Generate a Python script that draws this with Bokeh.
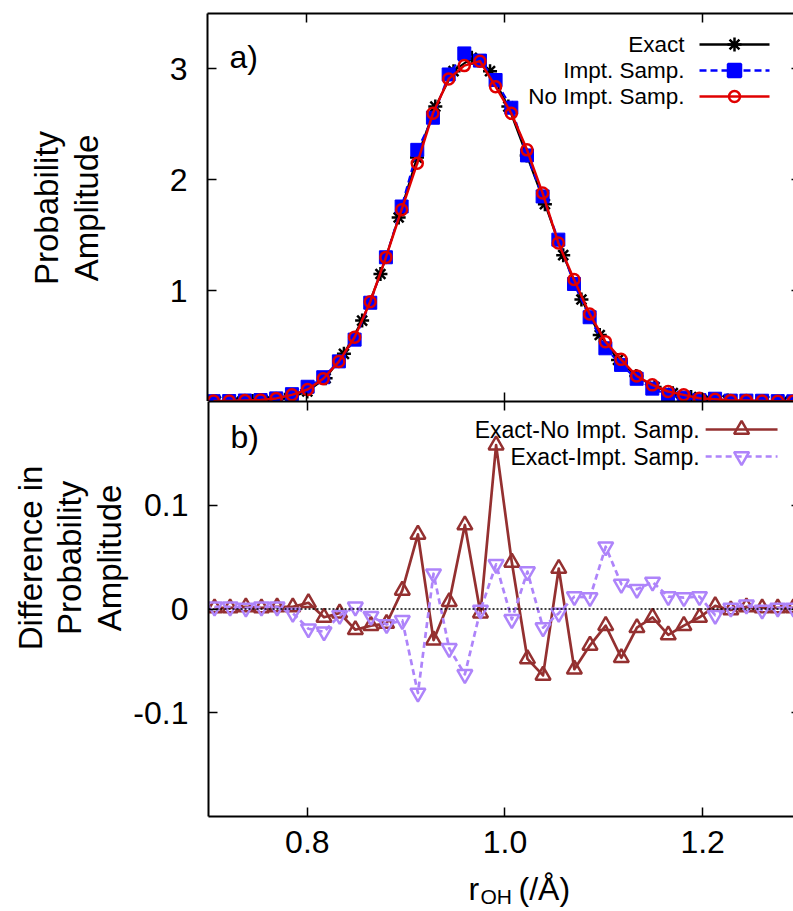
import math
from bokeh.plotting import figure
from bokeh.layouts import column, row
from bokeh.models import Range1d, LinearAxis, FixedTicker, Label, Span
from bokeh.embed import file_html
from bokeh.resources import INLINE

FONT = "Liberation Sans"

# ---------------- data ----------------
exact_x = [0.7085, 0.7270, 0.7455, 0.7639, 0.7824, 0.8008, 0.8193, 0.8378, 0.8562, 0.8747,
           0.8931, 0.9116, 0.9301, 0.9485, 0.9670, 0.9854, 1.0039, 1.0224, 1.0408, 1.0593,
           1.0777, 1.0962, 1.1147, 1.1331, 1.1516, 1.1700, 1.1885, 1.2070, 1.2254, 1.2439,
           1.2623, 1.2808, 1.2993]
exact_y = [0.001, 0.002, 0.005, 0.012, 0.030, 0.090, 0.210, 0.430, 0.730, 1.150,
           1.660, 2.200, 2.660, 2.980, 3.100, 2.980, 2.660, 2.220, 1.780, 1.320,
           0.920, 0.600, 0.375, 0.230, 0.130, 0.075, 0.040, 0.020, 0.010, 0.005,
           0.003, 0.002, 0.001]

samp_x = [0.7061, 0.7219, 0.7378, 0.7536, 0.7694, 0.7853, 0.8011, 0.8169, 0.8327, 0.8486,
          0.8644, 0.8802, 0.8961, 0.9119, 0.9277, 0.9436, 0.9594, 0.9752, 0.9910, 1.0069,
          1.0227, 1.0385, 1.0544, 1.0702, 1.0860, 1.1019, 1.1177, 1.1335, 1.1493, 1.1652,
          1.1810, 1.1968, 1.2127, 1.2285, 1.2443, 1.2602, 1.2760, 1.2918]
imp_y = [0.003, 0.004, 0.009, 0.013, 0.028, 0.066, 0.133, 0.219, 0.362, 0.558,
         0.891, 1.301, 1.759, 2.270, 2.560, 2.950, 3.140, 3.075, 2.900, 2.650,
         2.220, 1.850, 1.460, 1.060, 0.760, 0.480, 0.330, 0.205, 0.116, 0.060,
         0.035, 0.012, 0.025, 0.008, 0.008, 0.007, 0.003, 0.002]
noimp_y = [0.004, 0.005, 0.008, 0.014, 0.028, 0.060, 0.108, 0.205, 0.360, 0.580,
           0.900, 1.300, 1.730, 2.150, 2.600, 2.910, 3.030, 3.070, 2.840, 2.600,
           2.270, 1.880, 1.430, 1.100, 0.790, 0.540, 0.380, 0.230, 0.150, 0.090,
           0.060, 0.030, 0.020, 0.010, 0.010, 0.005, 0.003, 0.002]
diff_noimp = [0.001, 0.001, 0.002, 0.001, 0.002, 0.002, 0.006, -0.008, -0.004, -0.020,
              -0.016, -0.014, 0.018, 0.072, -0.030, 0.007, 0.081, -0.004, 0.158, 0.045,
              -0.048, -0.064, 0.039, -0.058, -0.035, -0.016, -0.047, -0.018, -0.008, -0.025,
              -0.016, -0.008, 0.003, -0.001, 0.002, 0.001, 0.001, 0.001]
diff_imp = [0.002, 0.002, 0.001, 0.002, 0.002, -0.004, -0.019, -0.022, -0.006, 0.002,
            -0.007, -0.015, -0.011, -0.081, 0.034, -0.038, -0.063, -0.001, 0.043, -0.010,
            0.036, -0.018, -0.004, 0.012, 0.011, 0.060, 0.024, 0.019, 0.026, 0.012,
            0.011, 0.012, -0.006, 0.001, 0.004, -0.001, 0.001, 0.001]

x_ticks = [0.8, 1.0, 1.2]
x_tick_labels = ["0.8", "1.0", "1.2"]
ya_ticks = [1, 2, 3]
yb_ticks = [-0.1, 0, 0.1]
yb_tick_labels = ["-0.1", "0", "0.1"]

legend_a = ["Exact", "Impt. Samp.", "No Impt. Samp."]
legend_b = ["Exact-No Impt. Samp.", "Exact-Impt. Samp."]

# ---------------- styling / geometry ----------------
BLACK = "black"
BLUE = "#0000FF"
RED = "#E00000"
BROWN = "#943030"
PURPLE = "#AE84FA"
MLW = 2.5            # marker outline width

PAGE_W = 793
LBL_W = 130          # width of the side strip that carries the y titles
FRAME_L = 207        # page x of the plot frames' left edge
FRAME_W = PAGE_W - FRAME_L
X0 = 0.7
X1 = X0 + FRAME_W / 990.0
A_TOP, A_H = 13, 388
B_H, B_BOT = 415, 52
C_H = 42
YA = (0.0, 3.5)
YB = (-0.2, 0.2)
A_FIG_H = A_TOP + A_H
B_FIG_H = B_H + B_BOT


def dx(px):
    return X0 + (px - FRAME_L) * (X1 - X0) / FRAME_W


def dya(py):
    return YA[1] - (py - A_TOP) * (YA[1] - YA[0]) / A_H


def dyb(py):
    return YB[1] - (py - A_FIG_H) * (YB[1] - YB[0]) / B_H


def make_fig(w, h, xr, yr, left=0, top=0, bottom=0):
    return figure(width=w, height=h, x_range=xr, y_range=yr,
                  x_axis_type=None, y_axis_type=None, output_backend="svg",
                  toolbar_location=None, min_border_left=left, min_border_right=0,
                  min_border_top=top, min_border_bottom=bottom,
                  outline_line_color=None, background_fill_color="white",
                  border_fill_color="white")


def add_axis(p, loc, ticks, labels=None, size="32px", standoff=0, tick_in=9, line=True):
    ax = LinearAxis(ticker=FixedTicker(ticks=ticks))
    ax.axis_line_color = BLACK if line else None
    ax.axis_line_width = 2
    ax.major_tick_in = tick_in
    ax.major_tick_out = 0
    ax.major_tick_line_width = 1.5
    ax.major_tick_line_color = BLACK
    ax.minor_tick_line_color = None
    if labels is None:
        ax.major_label_overrides = {t: "" for t in ticks}
        ax.major_label_text_font_size = "0px"
        ax.major_label_standoff = 0
    else:
        ax.major_label_overrides = {t: l for t, l in zip(ticks, labels)}
        ax.major_label_text_font_size = size
        ax.major_label_text_font = FONT
        ax.major_label_text_color = BLACK
        ax.major_label_standoff = standoff
    p.add_layout(ax, loc)
    return ax


def lab(p, x, y, text, size, align="left", angle=0.0):
    p.add_layout(Label(x=x, y=y, text=text, text_font=FONT, text_font_size=size,
                       text_color=BLACK, text_align=align, text_baseline="middle",
                       angle=angle))


# ---------------- panel a ----------------
pa = make_fig(PAGE_W - LBL_W, A_FIG_H, Range1d(X0, X1), Range1d(*YA),
              left=FRAME_L - LBL_W, top=A_TOP)
add_axis(pa, "left", ya_ticks, [str(t) for t in ya_ticks], standoff=20)
add_axis(pa, "above", x_ticks)
add_axis(pa, "below", x_ticks)
add_axis(pa, "right", ya_ticks, tick_in=2, line=False)

pa.line(exact_x, exact_y, line_color=BLACK, line_width=2)
pa.scatter(exact_x, exact_y, marker="asterisk", size=14, line_color=BLACK, line_width=MLW)
pa.line(samp_x, imp_y, line_color=BLUE, line_width=2, line_dash="7 4")
pa.scatter(samp_x, imp_y, marker="square", size=13, fill_color=BLUE, line_color=BLUE)
pa.line(samp_x, noimp_y, line_color=RED, line_width=2.5, line_join="round")
pa.scatter(samp_x, noimp_y, marker="circle", size=11, fill_color=None,
           line_color=RED, line_width=MLW)

specs_a = [(BLACK, "solid", "asterisk", 14, BLACK),
           (BLUE, "7 4", "square", 13, BLUE),
           (RED, "solid", "circle", 11, None)]
for k, (txt, (c, dash, mk, ms, fc)) in enumerate(zip(legend_a, specs_a)):
    yc = 44 + 26 * k
    pa.line([dx(699), dx(769)], [dya(yc), dya(yc)], line_color=c, line_width=2.5, line_dash=dash)
    pa.scatter([dx(734)], [dya(yc)], marker=mk, size=ms, line_color=c, fill_color=fc, line_width=MLW)
    lab(pa, dx(684), dya(yc), txt, "22.5px", align="right")

lab(pa, dx(229), dya(56), "a)", "32px")

# y title strip for panel a (page pixel coordinates)
la = make_fig(LBL_W, A_FIG_H, Range1d(0, LBL_W), Range1d(A_FIG_H, 0))
lab(la, 46, 201, "Probability", "33px", align="center", angle=math.pi / 2)
lab(la, 86, 201, "Amplitude", "33px", align="center", angle=math.pi / 2)

# ---------------- panel b ----------------
pb = make_fig(PAGE_W - LBL_W, B_FIG_H, Range1d(X0, X1), Range1d(*YB),
              left=FRAME_L - LBL_W, bottom=B_BOT)
add_axis(pb, "left", yb_ticks, yb_tick_labels, standoff=20)
add_axis(pb, "above", x_ticks)
add_axis(pb, "below", x_ticks, x_tick_labels, standoff=14)
add_axis(pb, "right", yb_ticks, tick_in=2, line=False)

pb.add_layout(Span(location=0, dimension="width", line_color=BLACK, line_width=1.5,
                   line_dash="2 2"))
pb.line(samp_x, diff_noimp, line_color=BROWN, line_width=2.7, line_join="round")
pb.scatter(samp_x, diff_noimp, marker="triangle", size=15, fill_color=None,
           line_color=BROWN, line_width=MLW)
pb.line(samp_x, diff_imp, line_color=PURPLE, line_width=2.7, line_dash="6 4", line_join="round")
pb.scatter(samp_x, diff_imp, marker="inverted_triangle", size=15, fill_color=None,
           line_color=PURPLE, line_width=MLW)

specs_b = [(BROWN, "solid", "triangle"), (PURPLE, "6 4", "inverted_triangle")]
for k, (txt, (c, dash, mk)) in enumerate(zip(legend_b, specs_b)):
    yc = 429 + 27 * k
    pb.line([dx(705), dx(777)], [dyb(yc), dyb(yc)], line_color=c, line_width=2.7, line_dash=dash)
    pb.scatter([dx(741)], [dyb(yc)], marker=mk, size=15, line_color=c, fill_color=None, line_width=MLW)
    lab(pb, dx(699), dyb(yc), txt, "23px", align="right")

lab(pb, dx(229), dyb(436), "b)", "32px")

lb = make_fig(LBL_W, B_FIG_H, Range1d(0, LBL_W), Range1d(A_FIG_H + B_FIG_H, A_FIG_H))
lab(lb, 29.5, 577, "Difference in", "33px", align="center", angle=math.pi / 2)
lab(lb, 69, 577, "Probability", "33px", align="center", angle=math.pi / 2)
lab(lb, 108.5, 577, "Amplitude", "33px", align="center", angle=math.pi / 2)

# ---------------- x title strip: r_OH (/Å) ----------------
C_TOP = A_FIG_H + B_FIG_H
pc = make_fig(PAGE_W, C_H, Range1d(0, PAGE_W), Range1d(C_TOP + C_H, C_TOP))
lab(pc, 468, 888, "r", "32px")
lab(pc, 480, 896, "OH", "21px")
lab(pc, 518, 888, "(/Å)", "32px")

layout = column(row(la, pa), row(lb, pb), pc)
open("out.html", "w").write(file_html(layout, INLINE))
